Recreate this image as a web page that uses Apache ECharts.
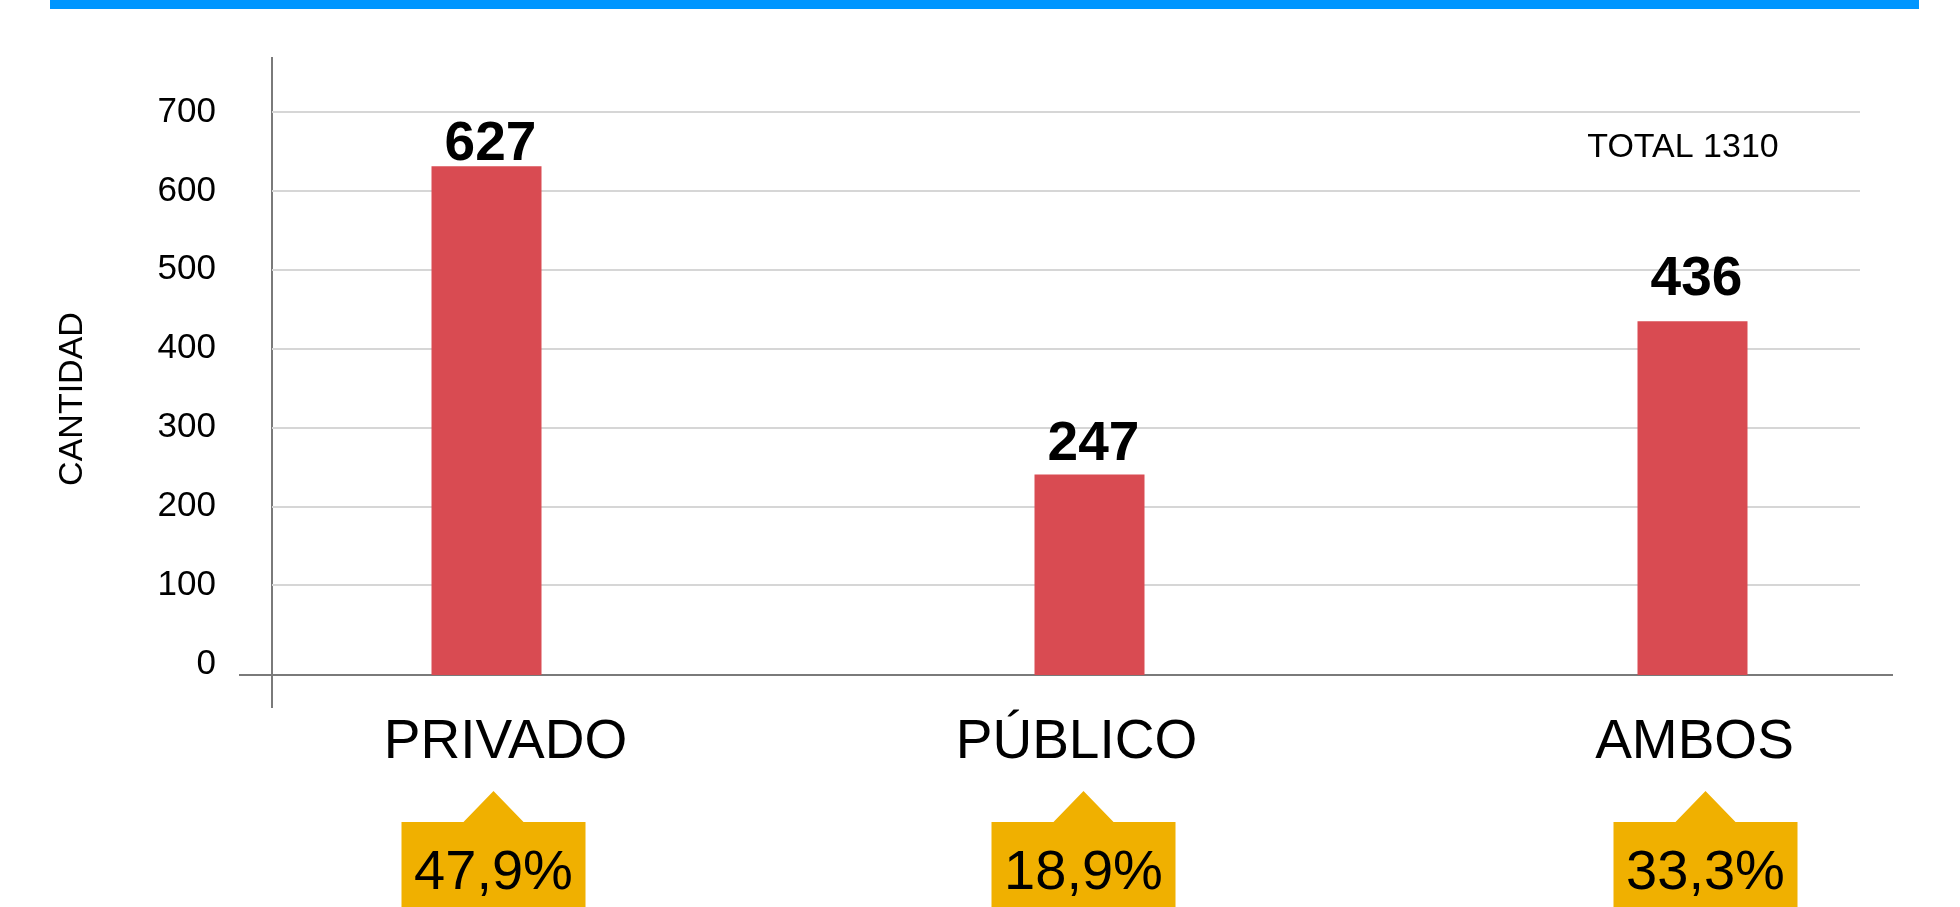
<!DOCTYPE html>
<html lang="es">
<head>
<meta charset="UTF-8" />
<title>Cantidad por tipo</title>
<script src="https://cdn.jsdelivr.net/npm/echarts@6.0.0/dist/echarts.min.js"></script>
<style>
  html, body { margin: 0; padding: 0; background: #fff; }
  #main { width: 1960px; height: 907px; }
</style>
</head>
<body>
<div id="main"></div>
<script>
var categories = ["PRIVADO", "PÚBLICO", "AMBOS"];
var cantidad = [627, 247, 436];
var porcentaje = [47.9, 18.9, 33.3];
var yMin = 0, yMax = 700, yStep = 100;

// small hand nudges so texts sit where the original slide put them
var nameShift = [19, -13, 2];
var boxShift = [7, -6, 13];
var valueShift = [14, 6, -6];

var FONT = '"Liberation Sans", Arial, Helvetica, sans-serif';
var total = cantidad.reduce(function (a, b) { return a + b; }, 0);

function fmtPct(v) {
  return v.toFixed(1).replace(".", ",") + "%";
}

var rich = {};
nameShift.forEach(function (s, i) {
  rich["c" + i] = {
    fontSize: 55,
    color: "#000",
    fontFamily: FONT,
    padding: s > 0 ? [0, 0, 0, 2 * s] : [0, -2 * s, 0, 0]
  };
});

var chart = echarts.init(document.getElementById("main"));

chart.setOption({
  animation: false,
  backgroundColor: "#fff",
  textStyle: { fontFamily: FONT },
  grid: [
    // gridlines + tick labels
    { left: 272, right: 100, top: 112, bottom: 243, outerBoundsMode: "none" },
    // bars (baseline sits on the drawn axis line)
    { left: 185, width: 1809, top: 107, bottom: 232, outerBoundsMode: "none" }
  ],
  xAxis: [
    { gridIndex: 0, type: "value", show: false, min: 0, max: 1 },
    {
      gridIndex: 1,
      type: "category",
      data: categories,
      axisLine: { show: false },
      axisTick: { show: false },
      axisLabel: {
        fontSize: 55,
        color: "#000",
        margin: 40,
        fontFamily: FONT,
        formatter: function (v, i) { return "{c" + i + "|" + v + "}"; },
        rich: rich
      }
    }
  ],
  yAxis: [
    {
      gridIndex: 0,
      type: "value",
      min: yMin,
      max: yMax,
      interval: yStep,
      axisLine: { show: false },
      axisTick: { show: false },
      axisLabel: { fontSize: 35, color: "#000", margin: 56, padding: [0, 0, 8, 0], fontFamily: FONT },
      splitLine: { show: true, showMinLine: false, lineStyle: { color: "#d6d6d6", width: 2 } }
    },
    {
      gridIndex: 1,
      type: "value",
      min: yMin,
      max: yMax,
      show: false,
      splitLine: { show: false }
    }
  ],
  series: [
    {
      type: "bar",
      xAxisIndex: 1,
      yAxisIndex: 1,
      data: cantidad.map(function (v, i) {
        return { value: v, label: { offset: [4, valueShift[i]] } };
      }),
      barWidth: 110,
      itemStyle: { color: "#d94b52" },
      label: {
        show: true,
        position: "top",
        distance: 8,
        fontSize: 55,
        fontWeight: "bold",
        color: "#000",
        fontFamily: FONT
      },
      z: 3
    },
    {
      type: "custom",
      xAxisIndex: 1,
      yAxisIndex: 1,
      clip: false,
      data: porcentaje.map(function (v, i) { return [i, v]; }),
      renderItem: function (params, api) {
        var idx = api.value(0);
        var p = api.coord([idx, 0]);
        var x = p[0] + boxShift[idx], y = p[1];
        var top = y + 147, apex = y + 116, bottom = y + 260;
        return {
          type: "group",
          children: [
            {
              type: "polygon",
              shape: {
                points: [
                  [x - 92, top], [x - 30, top], [x, apex], [x + 30, top],
                  [x + 92, top], [x + 92, bottom], [x - 92, bottom]
                ]
              },
              style: { fill: "#f0b000" }
            },
            {
              type: "text",
              x: x,
              y: y + 199,
              style: {
                text: fmtPct(api.value(1)),
                fill: "#000",
                font: "56px " + FONT,
                align: "center",
                verticalAlign: "middle"
              }
            }
          ]
        };
      }
    }
  ],
  graphic: [
    { type: "rect", shape: { x: 50, y: 0, width: 1869, height: 9 }, style: { fill: "#0096ff" } },
    { type: "line", shape: { x1: 272, y1: 57, x2: 272, y2: 708 }, style: { stroke: "#7a7a7a", lineWidth: 2 } },
    { type: "line", shape: { x1: 239, y1: 675, x2: 1893, y2: 675 }, style: { stroke: "#7a7a7a", lineWidth: 2 } },
    {
      type: "text",
      x: 73,
      y: 399,
      rotation: Math.PI / 2,
      style: {
        text: "CANTIDAD",
        fill: "#000",
        font: "34px " + FONT,
        align: "center",
        verticalAlign: "middle"
      }
    },
    {
      type: "text",
      x: 1683,
      y: 148,
      style: {
        text: "TOTAL " + total,
        fill: "#000",
        font: "34px " + FONT,
        align: "center",
        verticalAlign: "middle"
      }
    }
  ]
});
</script>
</body>
</html>
